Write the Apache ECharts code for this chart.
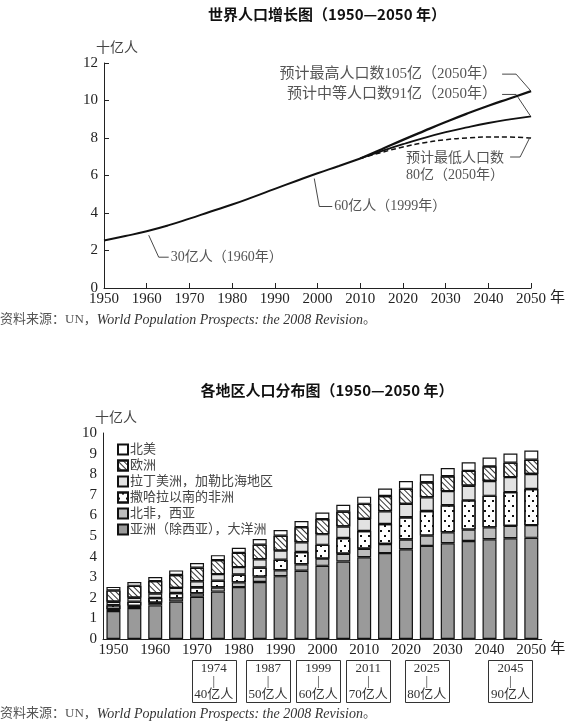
<!DOCTYPE html>
<html>
<head>
<meta charset="utf-8">
<script src="https://cdn.jsdelivr.net/npm/echarts@6/dist/echarts.min.js"></script>
<style>
    html, body { margin: 0; padding: 0; background: #fff; }
    #main { width: 566px; height: 724px; }
</style>
</head>
<body>
<div id="main"></div>
<script>
// 世界人口增长（十亿人）
const histYears = [1950, 1955, 1960, 1965, 1970, 1975, 1980, 1985, 1990, 1995, 2000, 2005, 2010];
const histPop = [2.53, 2.77, 3.03, 3.34, 3.70, 4.08, 4.45, 4.86, 5.29, 5.71, 6.12, 6.51, 6.91];
const projYears = [2010, 2015, 2020, 2025, 2030, 2035, 2040, 2045, 2050];
const projHigh = [6.91, 7.40, 7.90, 8.38, 8.85, 9.30, 9.72, 10.11, 10.50];
const projMid = [6.91, 7.30, 7.67, 8.01, 8.31, 8.57, 8.80, 8.99, 9.15];
const projLow = [6.91, 7.23, 7.52, 7.75, 7.91, 8.00, 8.05, 8.05, 8.00];

// 各地区人口分布（十亿人）
const barYears = ['1950', '1955', '1960', '1965', '1970', '1975', '1980', '1985', '1990', '1995', '2000',
    '2005', '2010', '2015', '2020', '2025', '2030', '2035', '2040', '2045', '2050'];
const asiaOceania = [1.36, 1.50, 1.63, 1.82, 2.05, 2.30, 2.52, 2.77, 3.05, 3.31, 3.55, 3.76, 3.97, 4.17, 4.36, 4.52, 4.65, 4.76, 4.84, 4.89, 4.91];
const nAfricaWAsia = [0.10, 0.11, 0.13, 0.15, 0.17, 0.20, 0.23, 0.26, 0.29, 0.32, 0.35, 0.38, 0.41, 0.44, 0.47, 0.50, 0.53, 0.55, 0.58, 0.60, 0.62];
const subSaharan = [0.18, 0.20, 0.23, 0.26, 0.29, 0.33, 0.38, 0.44, 0.51, 0.59, 0.67, 0.76, 0.86, 0.97, 1.08, 1.19, 1.31, 1.42, 1.53, 1.64, 1.75];
const latinAmerica = [0.17, 0.19, 0.22, 0.25, 0.29, 0.32, 0.36, 0.40, 0.44, 0.48, 0.52, 0.56, 0.59, 0.62, 0.65, 0.67, 0.69, 0.71, 0.72, 0.73, 0.73];
const europe = [0.55, 0.58, 0.60, 0.63, 0.66, 0.68, 0.69, 0.71, 0.72, 0.73, 0.73, 0.73, 0.73, 0.74, 0.73, 0.73, 0.72, 0.72, 0.71, 0.70, 0.69];
const northAmerica = [0.17, 0.19, 0.20, 0.22, 0.23, 0.24, 0.25, 0.27, 0.28, 0.30, 0.32, 0.33, 0.35, 0.36, 0.38, 0.39, 0.40, 0.42, 0.43, 0.44, 0.45];

// 人口里程碑
const milestoneYears = [1974, 1987, 1999, 2011, 2025, 2045];
const milestoneLabels = ['40亿人', '50亿人', '60亿人', '70亿人', '80亿人', '90亿人'];

const SERIF = '"Liberation Serif", "DejaVu Serif", "Noto Sans CJK SC", serif';
const SANS = '"Noto Sans CJK SC", "Noto Sans", sans-serif';
const INK = '#222';
const NOTE = '#555';

function pairs(xs, ys) {
    return xs.map(function(x, i) { return [x, ys[i]]; });
}

const chart = echarts.init(document.getElementById('main'));

const lineStyleAxis = { color: INK, width: 1 };

const barStyle = function(color, decal) {
    const s = { color: color, borderColor: '#111', borderWidth: 1.2 };
    if (decal) s.decal = decal;
    return s;
};

const hatch = {
    symbol: 'rect',
    symbolSize: 1,
    color: '#333',
    dashArrayX: [1, 0],
    dashArrayY: [1, 3],
    rotation: Math.PI / 4
};
const dots = {
    symbol: 'rect',
    symbolSize: 1,
    color: '#111',
    dashArrayX: [[2, 6], [0, 4, 2, 2]],
    dashArrayY: [2, 3]
};

const nameStyle = { fontFamily: SERIF, fontSize: 15, color: INK, verticalAlign: 'top', padding: [3, 0, 0, 0] };

const option = {
    animation: false,
    backgroundColor: '#fff',
    title: [
        {
            text: '世界人口增长图（1950—2050 年）',
            left: 322, top: 2, textAlign: 'center',
            textStyle: { fontFamily: SANS, fontSize: 15, fontWeight: 'bold', color: '#111' }
        },
        {
            text: '各地区人口分布图（1950—2050 年）',
            left: 322, top: 378, textAlign: 'center',
            textStyle: { fontFamily: SANS, fontSize: 15, fontWeight: 'bold', color: '#111' }
        }
    ],
    legend: {
        orient: 'vertical',
        left: 112, top: 438,
        itemWidth: 10, itemHeight: 10, itemGap: 3,
        icon: 'rect',
        data: ['北美', '欧洲', '拉丁美洲，加勒比海地区', '撒哈拉以南的非洲', '北非，西亚', '亚洲（除西亚），大洋洲'],
        textStyle: { fontFamily: SERIF, fontSize: 13, color: '#444', padding: [0, 0, 0, -3] }
    },
    grid: [
        { left: 104, right: 26, top: 63, height: 225 },
        { left: 103, right: 15, top: 433, height: 206 }
    ],
    xAxis: [
        {
            gridIndex: 0, type: 'value', min: 1950, max: 2050, interval: 10,
            name: '年', nameLocation: 'end', nameGap: 6,
            nameTextStyle: nameStyle,
            axisLine: { lineStyle: lineStyleAxis },
            axisTick: { inside: true, length: 5, lineStyle: lineStyleAxis },
            axisLabel: {
                fontFamily: SERIF, fontSize: 15, color: INK, margin: 4,
                formatter: function(v) { return String(v); }
            },
            splitLine: { show: false }
        },
        {
            gridIndex: 1, type: 'category', data: barYears,
            name: '年', nameLocation: 'end', nameGap: 2,
            nameTextStyle: nameStyle,
            axisLine: { lineStyle: lineStyleAxis },
            axisTick: { show: false },
            axisLabel: { interval: 1, fontFamily: SERIF, fontSize: 15, color: INK, margin: 4 },
            splitLine: { show: false }
        }
    ],
    yAxis: [
        {
            gridIndex: 0, type: 'value', min: 0, max: 12, interval: 2,
            name: '十亿人', nameLocation: 'end', nameGap: 6,
            nameTextStyle: { fontFamily: SERIF, fontSize: 14, color: '#444', align: 'left', padding: [0, 0, 0, -8] },
            axisLine: { show: true, lineStyle: lineStyleAxis },
            axisTick: { inside: true, length: 5, lineStyle: lineStyleAxis },
            axisLabel: { fontFamily: SERIF, fontSize: 15, color: INK, margin: 6 },
            splitLine: { show: false }
        },
        {
            gridIndex: 1, type: 'value', min: 0, max: 10, interval: 1,
            name: '十亿人', nameLocation: 'end', nameGap: 6,
            nameTextStyle: { fontFamily: SERIF, fontSize: 14, color: '#444', align: 'left', padding: [0, 0, 0, -8] },
            axisLine: { show: true, lineStyle: lineStyleAxis },
            axisTick: { inside: true, length: 5, lineStyle: lineStyleAxis },
            axisLabel: { fontFamily: SERIF, fontSize: 15, color: INK, margin: 6 },
            splitLine: { show: false }
        }
    ],
    series: [
        {
            name: '世界人口', type: 'line', xAxisIndex: 0, yAxisIndex: 0,
            data: pairs(histYears, histPop), smooth: true, showSymbol: false,
            lineStyle: { color: '#111', width: 2 }
        },
        {
            name: '最高', type: 'line', xAxisIndex: 0, yAxisIndex: 0,
            data: pairs(projYears, projHigh), smooth: true, showSymbol: false,
            lineStyle: { color: '#111', width: 2.2 }
        },
        {
            name: '中等', type: 'line', xAxisIndex: 0, yAxisIndex: 0,
            data: pairs(projYears, projMid), smooth: true, showSymbol: false,
            lineStyle: { color: '#111', width: 1.8 }
        },
        {
            name: '最低', type: 'line', xAxisIndex: 0, yAxisIndex: 0,
            data: pairs(projYears, projLow), smooth: true, showSymbol: false,
            lineStyle: { color: '#111', width: 1.5, type: [5, 3] }
        },
        {
            name: '亚洲（除西亚），大洋洲', type: 'bar', xAxisIndex: 1, yAxisIndex: 1, stack: 'pop',
            barWidth: 14, data: asiaOceania, itemStyle: barStyle('#9a9a9a')
        },
        {
            name: '北非，西亚', type: 'bar', xAxisIndex: 1, yAxisIndex: 1, stack: 'pop',
            barWidth: 14, data: nAfricaWAsia, itemStyle: barStyle('#bdbdbd')
        },
        {
            name: '撒哈拉以南的非洲', type: 'bar', xAxisIndex: 1, yAxisIndex: 1, stack: 'pop',
            barWidth: 14, data: subSaharan, itemStyle: barStyle('#fff', dots)
        },
        {
            name: '拉丁美洲，加勒比海地区', type: 'bar', xAxisIndex: 1, yAxisIndex: 1, stack: 'pop',
            barWidth: 14, data: latinAmerica, itemStyle: barStyle('#e2e2e2')
        },
        {
            name: '欧洲', type: 'bar', xAxisIndex: 1, yAxisIndex: 1, stack: 'pop',
            barWidth: 14, data: europe, itemStyle: barStyle('#fff', hatch)
        },
        {
            name: '北美', type: 'bar', xAxisIndex: 1, yAxisIndex: 1, stack: 'pop',
            barWidth: 14, data: northAmerica, itemStyle: barStyle('#fff')
        }
    ]
};

chart.setOption(option);

// 注释：引线和文字，锚点由坐标轴换算
function px(x, y) {
    return chart.convertToPixel({ gridIndex: 0 }, [x, y]);
}
function note(x, y, text, align, size) {
    return {
        type: 'text', x: x, y: y,
        style: { text: text, fill: NOTE, font: (size || 14) + 'px ' + SERIF, align: align || 'left', verticalAlign: 'middle' }
    };
}
function leader(points) {
    return {
        type: 'polyline',
        shape: { points: points },
        style: { stroke: '#333', lineWidth: 0.9, fill: null }
    };
}

const graphics = [];

const p30 = px(1960, histPop[2]);
graphics.push(leader([[p30[0] + 2, p30[1] + 4], [p30[0] + 12, p30[1] + 26], [p30[0] + 22, p30[1] + 26]]));
graphics.push(note(p30[0] + 24, p30[1] + 26, '30亿人（1960年）'));

const p60 = px(1999, 6.0);
graphics.push(leader([[p60[0] + 1, p60[1] + 3], [p60[0] + 6, p60[1] + 31], [p60[0] + 19, p60[1] + 31]]));
graphics.push(note(p60[0] + 21, p60[1] + 31, '60亿人（1999年）'));

const pHigh = px(2050, projHigh[projHigh.length - 1]);
graphics.push(leader([[pHigh[0] - 29, pHigh[1] - 17], [pHigh[0] - 15, pHigh[1] - 17], [pHigh[0] - 1, pHigh[1] - 1]]));
graphics.push(note(pHigh[0] - 34, pHigh[1] - 17, '预计最高人口数105亿（2050年）', 'right', 15));

const pMid = px(2050, projMid[projMid.length - 1]);
graphics.push(leader([[pMid[0] - 29, pMid[1] - 22], [pMid[0] - 15, pMid[1] - 22], [pMid[0] - 1, pMid[1] - 1]]));
graphics.push(note(pMid[0] - 34, pMid[1] - 22, '预计中等人口数91亿（2050年）', 'right', 15));

const pLow = px(2050, projLow[projLow.length - 1]);
graphics.push(leader([[pLow[0] - 2, pLow[1] + 1], [pLow[0] - 11, pLow[1] + 19], [pLow[0] - 21, pLow[1] + 19]]));
graphics.push(note(pLow[0] - 125, pLow[1] + 20, '预计最低人口数'));
graphics.push(note(pLow[0] - 125, pLow[1] + 37, '80亿（2050年）'));

// 里程碑方框：按年份在类目轴上插值
const band = chart.convertToPixel({ xAxisIndex: 1 }, barYears[1]) - chart.convertToPixel({ xAxisIndex: 1 }, barYears[0]);
const x0 = chart.convertToPixel({ xAxisIndex: 1 }, barYears[0]);
const yBase = chart.convertToPixel({ yAxisIndex: 1 }, 0);
milestoneYears.forEach(function(yr, i) {
    const cx = x0 + (yr - Number(barYears[0])) / 5 * band;
    graphics.push({
        type: 'rect',
        shape: { x: Math.round(cx - 22) + 0.5, y: Math.round(yBase + 21) + 0.5, width: 44, height: 42 },
        style: { fill: '#fff', stroke: '#333', lineWidth: 1 }
    });
    graphics.push({
        type: 'text', x: cx, y: yBase + 23,
        style: {
            text: yr + '\n|\n' + milestoneLabels[i],
            fill: '#333', font: '13px ' + SERIF, align: 'center', verticalAlign: 'top', lineHeight: 13
        }
    });
});

// 资料来源
function source(y) {
    return {
        type: 'text', x: 0, y: y,
        style: {
            text: '{a|资料来源：UN，}{b|World Population Prospects: the 2008 Revision}{a|。}',
            verticalAlign: 'middle',
            rich: {
                a: { fontFamily: SERIF, fontSize: 13, fill: NOTE },
                b: { fontFamily: SERIF, fontSize: 14, fontStyle: 'italic', fill: '#333' }
            }
        }
    };
}
graphics.push(source(320));
graphics.push(source(714));

chart.setOption({ graphic: graphics });

window.addEventListener('resize', function() {
    chart.resize();
});
</script>
</body>
</html>
